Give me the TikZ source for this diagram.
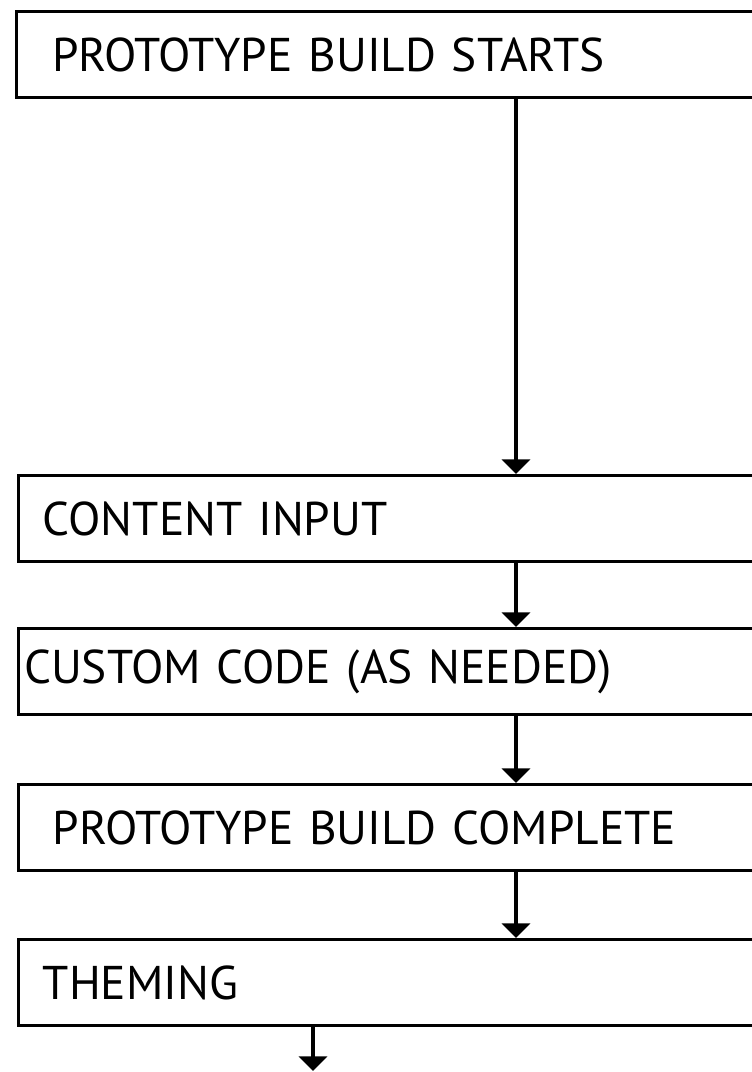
\documentclass[tikz,border=0pt]{standalone}
\usepackage{fontspec}
\setmainfont{PT Sans}[WordSpace=0.6]
\usetikzlibrary{arrows.meta}
\tikzset{every picture/.style={line width=2.6pt}}

\begin{document}
\begin{tikzpicture}[x=0.75pt,y=0.75pt,yscale=-1,xscale=1,
  stage/.style={draw, rectangle, anchor=north west, text width=560pt, align=left,
    minimum height=64.5pt, inner ysep=0pt, font=\fontsize{35.5}{40}\selectfont},
  flow/.style={-{Triangle[length=11pt,width=21pt]}}]
\useasboundingbox (0,0) rectangle (751,1072);

%Stages
\node [stage, inner xsep=26.5pt] (starts) at (15,10) {PROTOTYPE BUILD STARTS};
\node [stage, inner xsep=18pt] (content) at (17,474) {CONTENT INPUT};
\node [stage, inner xsep=4pt] (custom) at (17,627) {CUSTOM CODE (AS NEEDED)};
\node [stage, inner xsep=25.5pt] (complete) at (17,783) {PROTOTYPE BUILD COMPLETE};
\node [stage, inner xsep=18pt] (theming) at (17,938) {THEMING};

%Connectors
\coordinate (spine) at (516,0);
\coordinate (out) at (313,1071);
\draw [flow] (starts.south -| spine) -- (content.north -| spine);
\draw [flow] (content.south -| spine) -- (custom.north -| spine);
\draw [flow] (custom.south -| spine) -- (complete.north -| spine);
\draw [flow] (complete.south -| spine) -- (theming.north -| spine);
\draw [flow] (theming.south -| out) -- (out);

\end{tikzpicture}
\end{document}
